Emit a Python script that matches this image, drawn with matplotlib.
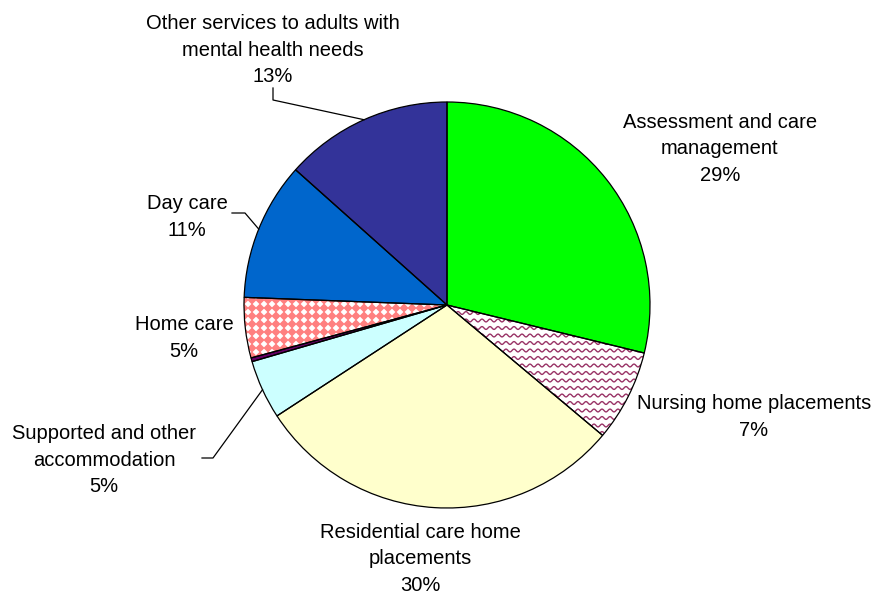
import numpy as np
import matplotlib
matplotlib.use("Agg")
import matplotlib.pyplot as plt
from matplotlib.patches import Wedge
from matplotlib.collections import LineCollection, PolyCollection

# ---- data ----
categories = [
    "Assessment and care\nmanagement",
    "Nursing home placements",
    "Residential care home\nplacements",
    "Supported and other\naccommodation",
    "",
    "Home care",
    "Day care",
    "Other services to adults with\nmental health needs",
]
values = [28.8, 7.3, 29.7, 4.7, 0.3, 4.8, 11.0, 13.4]
colors = ["#00FF00", "#FFFFFF", "#FFFFCC", "#CCFFFF", "#660066",
          "#FFFFFF", "#0066CC", "#333399"]

# ---- layout (pixel coordinates, y measured from top) ----
W, H = 876, 595
label_pos = {0: (720, 147), 1: (754, 415), 2: (420, 557), 3: (104, 458),
             5: (184, 336), 6: (187, 215), 7: (273, 48)}
leaders = {7: [(273, 88), (273, 100)],
           6: [(232, 213), (245, 213)],
           3: [(202, 458), (213, 458)]}

plt.rcParams["font.family"] = ["Liberation Sans", "DejaVu Sans"]
fig = plt.figure(figsize=(8.76, 5.95), dpi=100)
ax = fig.add_axes([0, 0, 1, 1])
cx, cy, R = 447, H - 305, 203
wedges, _ = ax.pie(values, colors=colors, startangle=90, counterclock=False,
                   center=(cx, cy), radius=R, frame=True,
                   wedgeprops=dict(edgecolor="none", linewidth=0))
ax.set_xlim(0, W)
ax.set_ylim(0, H)
ax.set_aspect("equal")
ax.axis("off")

# wavy pattern for nursing home placements
xs = np.arange(cx - R, cx + R, 0.5)
segs = []
for row in np.arange(cy - R, cy + R, 7.5):
    ys = row + 1.4 * np.sin(2 * np.pi * xs / 8.0)
    segs.append(np.column_stack([xs, ys]))
lc = LineCollection(segs, colors="#993366", linewidths=1.0, zorder=2)
ax.add_collection(lc)
lc.set_clip_path(wedges[1])

# diamond pattern for home care
polys = []
h = 4.6
for gx in np.arange(cx - R, cx + R, 8.0):
    for gy in np.arange(cy - R, cy + R, 8.0):
        polys.append([(gx - h, gy), (gx, gy + h), (gx + h, gy), (gx, gy - h)])
pc = PolyCollection(polys, facecolors="#FF8080", edgecolors="none", zorder=2)
ax.add_collection(pc)
pc.set_clip_path(wedges[5])

# outlines
for w in wedges:
    ax.add_patch(Wedge(w.center, w.r, w.theta1, w.theta2, fill=False,
                       edgecolor="black", linewidth=0.9, zorder=5))

# labels
def put(lines, x, yc, spacing=26.5):
    n = len(lines)
    for i, line in enumerate(lines):
        y = yc + (i - (n - 1) / 2) * spacing
        ax.text(x, H - y, line, ha="center", va="center_baseline",
                fontsize=14.5, color="black")

for i, (cat, v) in enumerate(zip(categories, values)):
    if i not in label_pos:
        continue
    x, y = label_pos[i]
    put(cat.split("\n") + [f"{round(v)}%"], x, y)

# leader lines to the slice mid-angle on the rim
for i, pts in leaders.items():
    w = wedges[i]
    mid = np.deg2rad((w.theta1 + w.theta2) / 2)
    ex, ey = cx + R * np.cos(mid), cy + R * np.sin(mid)
    px = [p[0] for p in pts] + [ex]
    py = [H - p[1] for p in pts] + [ey]
    ax.plot(px, py, color="black", linewidth=0.9, zorder=6)

fig.savefig("out.png", dpi=100)
